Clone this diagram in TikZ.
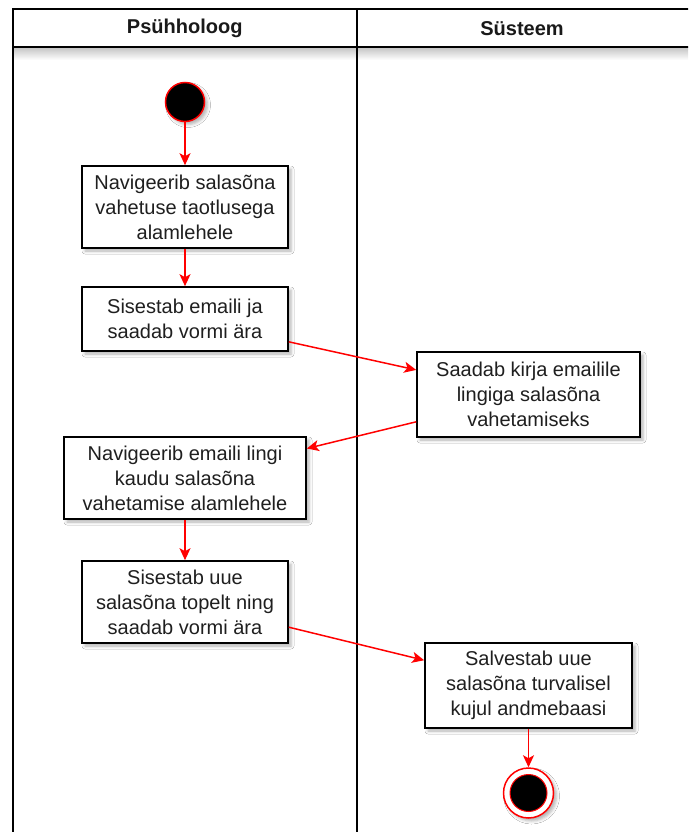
\documentclass[tikz,border=0pt]{standalone}
\usepackage{fontspec}
\setmainfont{Liberation Sans}
\usetikzlibrary{arrows.meta,shadows,shadows.blur}

\begin{document}
\begin{tikzpicture}[x=1pt,y=-1pt,
  lane/.style={draw=black,line width=2pt},
  hdr/.style={font=\bfseries\fontsize{20}{24}\selectfont,text=black!90},
  softshadow/.style={blur shadow={shadow xshift=3pt,shadow yshift=-3pt,
      shadow blur radius=3pt,shadow opacity=30}},
  actbox/.style={draw=black,line width=1.6pt,fill=white,align=center,
      inner sep=0pt,font=\fontsize{20}{25}\selectfont,text=black!88,softshadow},
  flow/.style={draw=red,line width=1.5pt,
      -{Stealth[length=12pt,width=11pt,inset=3pt,red]}}]

\useasboundingbox (0,0) rectangle (688,832);
\clip (0,0) rectangle (688,832);
\fill[white] (0,0) rectangle (688,832);

% swimlane frame with a soft shadow below the header row
\shade[top color=black!22,bottom color=white] (13,48) rectangle (690,60);
\draw[lane] (12.5,9) rectangle (690,900);
\draw[lane] (12.5,47.5) -- (690,47.5);
\draw[lane] (357,9) -- (357,900);
\node[hdr] (h1) at (184.75,28.5) {Psühholoog};
\node[hdr] (h2) at (522,28.5) {Süsteem};

% initial state
\node[circle,fill=black,draw=red,line width=1.5pt,minimum size=39pt,
      inner sep=0pt,softshadow] (start) at (185,102) {};

% actions
\node[actbox,minimum width=206pt,minimum height=82pt] (b1) at (185,207)
  {Navigeerib salasõna\\vahetuse taotlusega\\alamlehele};
\node[actbox,minimum width=206pt,minimum height=64pt] (b2) at (185,319)
  {Sisestab emaili ja\\saadab vormi ära};
\node[actbox,minimum width=223pt,minimum height=85pt] (b3) at (528.5,394.5)
  {Saadab kirja emailile\\lingiga salasõna\\vahetamiseks};
\node[actbox,minimum width=242pt,minimum height=82pt] (b4) at (185,478)
  {Navigeerib emaili lingi\\kaudu salasõna\\vahetamise alamlehele};
\node[actbox,minimum width=206pt,minimum height=82pt] (b5) at (185,602)
  {Sisestab uue\\salasõna topelt ning\\saadab vormi ära};
\node[actbox,minimum width=207pt,minimum height=85pt] (b6) at (528.5,685.5)
  {Salvestab uue\\salasõna turvalisel\\kujul andmebaasi};

% final state
\node[circle,draw=red,line width=1.5pt,fill=white,minimum size=50pt,
      inner sep=0pt,softshadow] (end) at (528.5,793) {};
\node[circle,fill=black,draw=red,line width=1pt,minimum size=37pt,
      inner sep=0pt] (endcore) at (end) {};

% control flow
\draw[flow] (start) -- (b1);
\draw[flow] (b1) -- (b2);
\draw[flow] (b2) -- (b3);
\draw[flow] (b3) -- (b4);
\draw[flow] (b4) -- (b5);
\draw[flow] (b5) -- (b6);
\draw[flow] (b6) -- (end);
\end{tikzpicture}
\end{document}
